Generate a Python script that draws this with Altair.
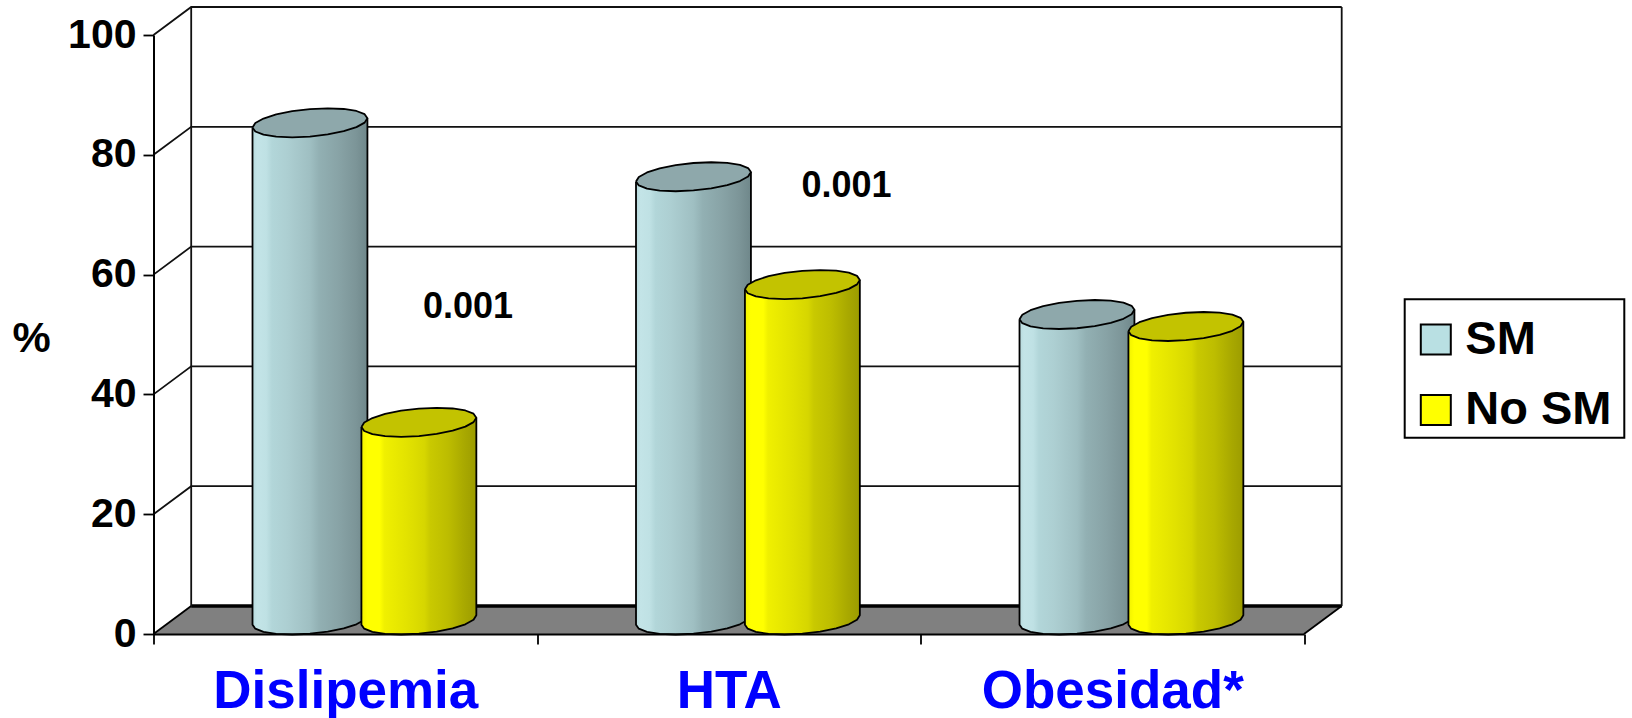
import json

import altair as alt
import numpy as np
import pandas as pd

categories = ["Dislipemia", "HTA", "Obesidad*"]
series_names = ["SM", "No SM"]
sm_values = [83, 74, 51]
no_sm_values = [33, 56, 49]
value_ticks = [0, 20, 40, 60, 80, 100]
p_labels = ["0.001", "0.001"]

FONT = "Liberation Sans"
TEAL_SWATCH = "#b9e0e3"
YELLOW_SWATCH = "#ffff00"

# Pixel extents of the front plane: one category unit and one value unit.
PX_X = 383.5
PX_Y = 5.99
LEFT = 153.5
TOP = 35.0
BASELINE = 634.0

# Depth of the 3D box, in data units.
BOX_DX = 37.7 / PX_X
BOX_DY = 28.0 / PX_Y

# Cylinder shape and placement inside a category.
HALF_W = 54.4 / PX_X
DEPTH_X = 18.5 / PX_X
DEPTH_Y = 14.5 / PX_Y
BASE_LIFT = 14.0 / PX_Y
SERIES_OFFSET = {"SM": 0.408, "No SM": 0.692}
FACETS = 10

# Front axes: the value scale on the left, category names centred between ticks.
label_expr = "[" + ",".join(json.dumps(c) for c in categories + [""]) + "][datum.value]"
x_axis = alt.Axis(
    values=[0, 1, 2, 3], title=None, grid=False, labelExpr=label_expr,
    labelOffset=PX_X / 2, labelAlign="center", labelFlush=False, labelOverlap=False,
    labelBound=False, labelFont=FONT, labelFontWeight="bold", labelFontSize=53, labelLimit=500,
    labelColor="#0000ff", labelPadding=21, tickSize=10, tickWidth=1.8, tickColor="black",
    domainColor="black", domainWidth=2, zindex=1,
)
y_axis = alt.Axis(
    values=value_ticks, title="%", titleAngle=0, titleX=-122.5, titleY=316, titleAlign="center",
    titleBaseline="alphabetic", titleFont=FONT, titleFontWeight="bold", titleFontSize=43,
    titleColor="black", grid=False, labelFont=FONT, labelFontWeight="bold", labelFontSize=41,
    labelColor="black", labelPadding=7, tickSize=10.5, tickWidth=1.8, tickColor="black",
    domainColor="black", domainWidth=2, labelOverlap=False, labelBound=False, labelFlush=False, zindex=1,
)


def cylinder_rows(series, values):
    """Body, lid and outline points for each faceted cylinder of one series."""
    body, lid, outline = [], [], []
    t0 = np.arctan2(DEPTH_X, HALF_W)
    radius = np.hypot(HALF_W, DEPTH_X)
    u = np.linspace(0, np.pi, FACETS + 1)
    for i, (cat, value) in enumerate(zip(categories, values)):
        cx = i + SERIES_OFFSET[series]
        xs = cx - radius * np.cos(u)
        up = DEPTH_Y * np.sin(t0 + np.pi - u)
        low = DEPTH_Y * np.sin(t0 + np.pi + u)
        top = value + BASE_LIFT
        base = BASE_LIFT
        for x, a, b in zip(xs, up, low):
            body.append(dict(bar=cat, x=x, y=top + a, y2=base + b))
            lid.append(dict(bar=cat, x=x, y=top + a, y2=top + b))
        seq = 0
        # Closed lid contour.
        for x, a in zip(xs, up):
            outline.append(dict(bar=cat, part="lid", seq=seq, x=x, y=top + a))
            seq += 1
        for x, b in zip(xs[::-1], low[::-1]):
            outline.append(dict(bar=cat, part="lid", seq=seq, x=x, y=top + b))
            seq += 1
        # Side walls and the front arc of the base.
        outline.append(dict(bar=cat, part="side", seq=seq, x=xs[0], y=top + low[0]))
        seq += 1
        for x, b in zip(xs, low):
            outline.append(dict(bar=cat, part="side", seq=seq, x=x, y=base + b))
            seq += 1
        outline.append(dict(bar=cat, part="side", seq=seq, x=xs[-1], y=top + low[-1]))
    return pd.DataFrame(body), pd.DataFrame(lid), pd.DataFrame(outline)


def x_enc():
    return alt.X("x:Q", scale=alt.Scale(domain=[0, 3], nice=False, zero=False), axis=x_axis)


def y_enc():
    return alt.Y("y:Q", scale=alt.Scale(domain=[0, 100], nice=False, zero=False), axis=y_axis)


def gradient(stops):
    return alt.Gradient(
        gradient="linear",
        x1=0, x2=1, y1=0, y2=0,
        stops=[alt.GradientStop(color=c, offset=o) for o, c in stops],
    )


teal_stops = [
    (0.0, "#b7dadd"), (0.04, "#c3e4e7"), (0.12, "#bfe1e4"), (0.17, "#b2d6d9"),
    (0.3, "#adcfd2"), (0.5, "#9fbfc2"), (0.58, "#92b0b3"), (0.75, "#88a3a6"),
    (0.9, "#7c9598"), (1.0, "#6f878a"),
]
yellow_stops = [
    (0.0, "#f2f200"), (0.05, "#ffff00"), (0.16, "#ffff00"), (0.2, "#f0f000"),
    (0.4, "#e2e200"), (0.55, "#d6d600"), (0.6, "#c9c900"), (0.75, "#bdbd00"),
    (0.9, "#a8a800"), (1.0, "#9c9c00"),
]

# Floor of the box.
floor_df = pd.DataFrame({
    "x": [0, BOX_DX, 3, 3 + BOX_DX],
    "y": [0, BOX_DY, BOX_DY, BOX_DY],
    "y2": [0, 0, 0, BOX_DY],
})
floor = alt.Chart(floor_df).mark_area(color="#808080").encode(
    x=x_enc(), y=y_enc(), y2="y2:Q"
)
floor_back = alt.Chart(pd.DataFrame({"x": [BOX_DX, 3 + BOX_DX], "y": [BOX_DY, BOX_DY]})).mark_line(
    color="black", strokeWidth=3.5
).encode(x=x_enc(), y=y_enc())
floor_edges = alt.Chart(pd.DataFrame({
    "edge": ["l", "l", "r", "r"],
    "x": [0, BOX_DX, 3, 3 + BOX_DX],
    "y": [0, BOX_DY, 0, BOX_DY],
})).mark_line(color="black", strokeWidth=1.8).encode(x=x_enc(), y=y_enc(), detail="edge:N")

# Back wall grid, side wall diagonals and the wall frame.
wall_rows = []
for tick in value_ticks[1:]:
    wall_rows.append(dict(id=f"g{tick}", seq=0, x=0, y=tick))
    wall_rows.append(dict(id=f"g{tick}", seq=1, x=BOX_DX, y=tick + BOX_DY))
    wall_rows.append(dict(id=f"g{tick}", seq=2, x=3 + BOX_DX, y=tick + BOX_DY))
wall_rows.append(dict(id="left", seq=0, x=BOX_DX, y=BOX_DY))
wall_rows.append(dict(id="left", seq=1, x=BOX_DX, y=100 + BOX_DY))
wall_rows.append(dict(id="right", seq=0, x=3 + BOX_DX, y=BOX_DY))
wall_rows.append(dict(id="right", seq=1, x=3 + BOX_DX, y=100 + BOX_DY))
walls = alt.Chart(pd.DataFrame(wall_rows)).mark_line(color="#111111", strokeWidth=1.8).encode(
    x=x_enc(), y=y_enc(), detail="id:N", order="seq:Q"
)


def cylinders(series, values, stops, lid_color):
    body_df, lid_df, outline_df = cylinder_rows(series, values)
    body = alt.Chart(body_df).mark_area(color=gradient(stops)).encode(
        x=x_enc(), y=y_enc(), y2="y2:Q", detail="bar:N"
    )
    lid = alt.Chart(lid_df).mark_area(color=lid_color).encode(
        x=x_enc(), y=y_enc(), y2="y2:Q", detail="bar:N"
    )
    outline = alt.Chart(outline_df).mark_line(color="black", strokeWidth=1.8, strokeJoin="round").encode(
        x=x_enc(), y=y_enc(), detail=["bar:N", "part:N"], order="seq:Q"
    )
    return [body, lid, outline]


sm_layers = cylinders("SM", sm_values, teal_stops, "#8ea8ab")
no_sm_layers = cylinders("No SM", no_sm_values, yellow_stops, "#c3c300")

# Significance labels.
p_df = pd.DataFrame({"label": p_labels, "x": [0.82, 1.807], "y": [54.65, 74.85]})
p_text = alt.Chart(p_df).mark_text(
    font=FONT, fontWeight="bold", fontSize=36, color="black", align="center", baseline="middle"
).encode(x=x_enc(), y=y_enc(), text="label:N")

# Frame behind the legend entries.
legend_box = alt.Chart(pd.DataFrame({
    "x": [(1404.7 - LEFT) / PX_X],
    "x2": [(1624.3 - LEFT) / PX_X],
    "y": [(BASELINE - 299.3) / PX_Y],
    "y2": [(BASELINE - 437.7) / PX_Y],
})).mark_rect(fill="white", stroke="black", strokeWidth=2).encode(
    x=x_enc(), x2="x2:Q", y=y_enc(), y2="y2:Q"
)

# Zero-size points that only feed the legend.
legend_df = pd.DataFrame({"series": series_names, "x": [0, 0], "y": [0, 0]})
legend_layer = alt.Chart(legend_df).mark_point(filled=True, shape="square", size=0).encode(
    x=x_enc(), y=y_enc(),
    color=alt.Color(
        "series:N",
        scale=alt.Scale(domain=series_names, range=[TEAL_SWATCH, YELLOW_SWATCH]),
        legend=alt.Legend(
            title=None, orient="none", legendX=1412.3 - LEFT, legendY=316 - TOP,
            symbolType="square", symbolSize=900, symbolStrokeColor="black", symbolStrokeWidth=2,
            symbolOpacity=1, labelFont=FONT, labelFontWeight="bold", labelFontSize=47,
            labelColor="black", labelOffset=6, rowPadding=22.5, padding=0,
            symbolOffset=0, labelLimit=400,
        ),
    ),
)

chart = (
    alt.layer(
        floor, floor_back, floor_edges, walls,
        *sm_layers, *no_sm_layers, p_text, legend_box, legend_layer,
    )
    .resolve_scale(x="shared", y="shared")
    .properties(
        width=PX_X * 3,
        height=599,
        padding={"left": LEFT, "top": TOP, "right": 1632 - LEFT - PX_X * 3, "bottom": 718 - BASELINE},
        autosize=alt.AutoSizeParams(type="none"),
        background="white",
    )
    .configure_view(stroke=None)
)

chart.save("out.html", embed_options={"renderer": "svg", "actions": False})
